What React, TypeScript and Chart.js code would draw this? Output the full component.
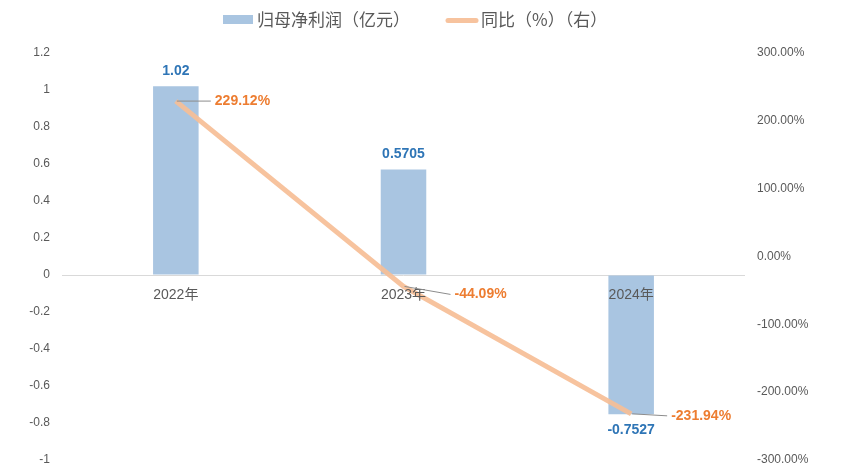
import React, { useEffect, useRef } from "react";
import { Chart, registerables } from "chart.js";

Chart.register(...registerables);

const categories = ["2022年", "2023年", "2024年"];
const profitValues = [1.02, 0.5705, -0.7527];
const profitLabels = ["1.02", "0.5705", "-0.7527"];
const yoyValues = [229.12, -44.09, -231.94];
const yoyLabels = ["229.12%", "-44.09%", "-231.94%"];
const seriesNames = ["归母净利润（亿元）", "同比（%）（右）"];

const BAR_COLOR = "#A9C5E1";
const LINE_COLOR = "rgba(246,190,150,0.92)";
const BLUE_TEXT = "#2E75B6";
const ORANGE_TEXT = "#ED7D31";
const AXIS_TEXT = "#595959";
const FONT = '"Liberation Sans", "Noto Sans CJK SC", sans-serif';
const CJK_FONT = '"Noto Sans CJK SC", "Liberation Sans", sans-serif';

// label offsets (style) for line labels relative to point
const yoyLabelOffsets = [
  { dx: 39, dy: 0 },
  { dx: 51, dy: 8 },
  { dx: 40, dy: 2 },
];

const overlayPlugin = {
  id: "overlay",
  afterDatasetsDraw(chart: any) {
    const ctx = chart.ctx;
    const x = chart.scales.x;
    const y = chart.scales.y;
    const y1 = chart.scales.y1;
    const zeroY = y.getPixelForValue(0);
    ctx.save();
    ctx.font = `14px ${FONT}`;
    ctx.fillStyle = AXIS_TEXT;
    ctx.textAlign = "center";
    ctx.textBaseline = "middle";
    categories.forEach((c, i) => {
      ctx.fillText(c, x.getPixelForValue(i), zeroY + 20);
    });
    ctx.font = `bold 14px ${FONT}`;
    ctx.fillStyle = BLUE_TEXT;
    profitValues.forEach((v, i) => {
      const px = x.getPixelForValue(i);
      const py = y.getPixelForValue(v);
      ctx.fillText(profitLabels[i], px, v >= 0 ? py - 15 : py + 16);
    });
    yoyValues.forEach((v, i) => {
      const px = x.getPixelForValue(i);
      const py = y1.getPixelForValue(v);
      const o = yoyLabelOffsets[i];
      const lx = px + o.dx;
      const ly = py + o.dy;
      ctx.strokeStyle = "#8c8c8c";
      ctx.lineWidth = 1;
      ctx.beginPath();
      ctx.moveTo(px + 1, py);
      ctx.lineTo(lx - 4, ly);
      ctx.stroke();
      ctx.fillStyle = ORANGE_TEXT;
      ctx.textAlign = "left";
      ctx.fillText(yoyLabels[i], lx, ly);
    });
    ctx.restore();
  },
  afterDraw(chart: any) {
    const ctx = chart.ctx;
    ctx.save();
    ctx.fillStyle = BAR_COLOR;
    ctx.fillRect(223, 15, 30, 9);
    ctx.font = `17px ${CJK_FONT}`;
    ctx.fillStyle = AXIS_TEXT;
    ctx.textAlign = "left";
    ctx.textBaseline = "middle";
    ctx.fillText(seriesNames[0], 257, 19.5);
    ctx.strokeStyle = LINE_COLOR;
    ctx.lineWidth = 5;
    ctx.lineCap = "round";
    ctx.beginPath();
    ctx.moveTo(448, 20.5);
    ctx.lineTo(476, 20.5);
    ctx.stroke();
    ctx.fillText(seriesNames[1], 481, 19.5);
    ctx.restore();
  },
};

export default function App() {
  const ref = useRef<HTMLCanvasElement | null>(null);
  useEffect(() => {
    document.body.style.margin = "0";
    const canvas = ref.current;
    if (!canvas) return;
    const chart = new Chart(canvas, {
      type: "bar",
      data: {
        labels: categories,
        datasets: [
          {
            type: "line",
            label: seriesNames[1],
            data: yoyValues,
            yAxisID: "y1",
            borderColor: LINE_COLOR,
            backgroundColor: LINE_COLOR,
            borderWidth: 5,
            pointRadius: 0,
            tension: 0,
            order: 0,
          } as any,
          {
            type: "bar",
            label: seriesNames[0],
            data: profitValues,
            yAxisID: "y",
            backgroundColor: BAR_COLOR,
            categoryPercentage: 1,
            barPercentage: 0.2,
            order: 1,
          } as any,
        ],
      },
      options: {
        responsive: false,
        animation: false,
        layout: { padding: { top: 53, bottom: 14, left: 0, right: 0 } },
        plugins: { legend: { display: false }, tooltip: { enabled: false } },
        scales: {
          x: { display: false, offset: true },
          y: {
            position: "left",
            min: -1,
            max: 1.2,
            border: { display: false },
            grid: {
              drawTicks: false,
              color: (c: any) => (c.tick && c.tick.value === 0 ? "#d9d9d9" : "rgba(0,0,0,0)"),
              lineWidth: 1,
            },
            ticks: {
              stepSize: 0.2,
              padding: 12,
              color: AXIS_TEXT,
              font: { family: FONT, size: 12 },
              callback: (v: any) => String(Math.round(Number(v) * 10) / 10),
            },
            afterFit: (s: any) => {
              s.width = 62;
              s.paddingTop = 0;
              s.paddingBottom = 0;
            },
          },
          y1: {
            position: "right",
            min: -300,
            max: 300,
            border: { display: false },
            grid: { display: false, drawTicks: false },
            ticks: {
              stepSize: 100,
              padding: 12,
              color: AXIS_TEXT,
              font: { family: FONT, size: 12 },
              callback: (v: any) => Number(v).toFixed(2) + "%",
            },
            afterFit: (s: any) => {
              s.width = 100;
              s.paddingTop = 0;
              s.paddingBottom = 0;
            },
          },
        },
      } as any,
      plugins: [overlayPlugin],
    });
    return () => chart.destroy();
  }, []);
  return <canvas ref={ref} width={845} height={474} style={{ display: "block" }} />;
}
